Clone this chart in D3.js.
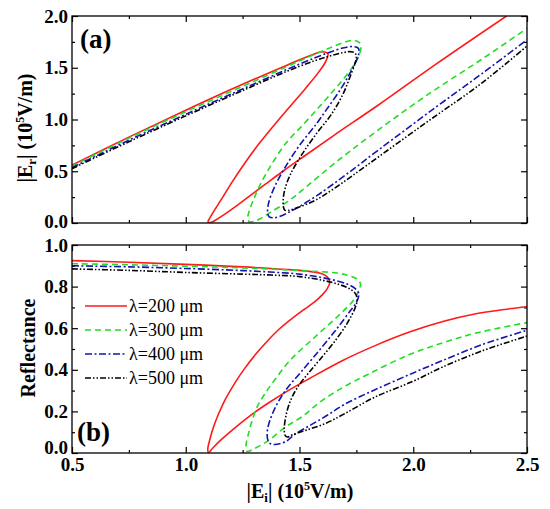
<!DOCTYPE html>
<html>
<head>
<meta charset="utf-8">
<script src="https://cdn.jsdelivr.net/npm/d3@7"></script>
<style>
  html, body { margin: 0; padding: 0; background: #fff; }
  svg text { font-family: "Liberation Serif", "Times New Roman", serif; }
</style>
</head>
<body>
<svg id="chart" width="550" height="509"></svg>
<script>
// ---------- DATA ----------
const xTicks = [0.5, 1.0, 1.5, 2.0, 2.5];
const xMinor = [0.75, 1.25, 1.75, 2.25];
const yTicksTop = [0.0, 0.5, 1.0, 1.5, 2.0];
const yMinorTop = [0.25, 0.75, 1.25, 1.75];
const yTicksBot = [0.0, 0.2, 0.4, 0.6, 0.8, 1.0];
const yMinorBot = [0.1, 0.3, 0.5, 0.7, 0.9];
const seriesLabels = ["λ=200 μm", "λ=300 μm", "λ=400 μm", "λ=500 μm"];

// Panel (a): |Er| vs |Ei|, points in path order [Ei, Er]
const topRed = [[0.50,0.56],[0.75,0.83],[1.00,1.09],[1.25,1.34],[1.45,1.53],[1.55,1.62],[1.60,1.655],[1.625,1.635],[1.615,1.56],[1.585,1.46],[1.53,1.31],[1.46,1.13],[1.39,0.95],[1.32,0.76],[1.26,0.58],[1.205,0.40],[1.16,0.24],[1.125,0.12],[1.105,0.045],[1.098,0.012],[1.104,0.002],[1.118,0.012],[1.14,0.04],[1.175,0.09],[1.22,0.16],[1.28,0.26],[1.35,0.375],[1.43,0.505],[1.52,0.645],[1.65,0.845],[1.85,1.145],[2.10,1.535],[2.41,2.0]];
const topGreen = [[0.50,0.55],[0.75,0.82],[1.00,1.075],[1.25,1.32],[1.50,1.565],[1.62,1.68],[1.69,1.74],[1.735,1.765],[1.762,1.745],[1.77,1.70],[1.762,1.62],[1.74,1.53],[1.70,1.41],[1.65,1.28],[1.59,1.13],[1.52,0.96],[1.44,0.77],[1.37,0.54],[1.325,0.36],[1.295,0.21],[1.277,0.10],[1.272,0.04],[1.28,0.012],[1.30,0.015],[1.33,0.045],[1.37,0.10],[1.45,0.21],[1.53,0.35],[1.65,0.57],[1.81,0.84],[2.05,1.22],[2.30,1.58],[2.50,1.88]];
const topBlue = [[0.50,0.535],[0.75,0.80],[1.00,1.05],[1.25,1.295],[1.50,1.535],[1.62,1.64],[1.69,1.69],[1.735,1.705],[1.758,1.69],[1.762,1.65],[1.752,1.58],[1.72,1.44],[1.68,1.29],[1.62,1.10],[1.575,0.96],[1.50,0.75],[1.44,0.55],[1.395,0.37],[1.365,0.20],[1.36,0.10],[1.367,0.06],[1.385,0.05],[1.41,0.06],[1.45,0.10],[1.50,0.16],[1.58,0.27],[1.70,0.46],[1.85,0.71],[2.10,1.12],[2.30,1.44],[2.50,1.77]];
const topBlack = [[0.50,0.525],[0.75,0.785],[1.00,1.035],[1.25,1.28],[1.50,1.515],[1.62,1.605],[1.69,1.645],[1.725,1.655],[1.745,1.64],[1.75,1.60],[1.742,1.53],[1.72,1.40],[1.69,1.24],[1.64,1.05],[1.57,0.85],[1.51,0.66],[1.46,0.47],[1.435,0.32],[1.428,0.21],[1.43,0.15],[1.435,0.125],[1.45,0.122],[1.50,0.155],[1.57,0.22],[1.65,0.33],[1.81,0.58],[2.05,0.96],[2.30,1.35],[2.50,1.71]];

// Panel (b): Reflectance vs |Ei|, points in path order [Ei, R]
const botRed = [[0.50,0.925],[0.75,0.917],[1.00,0.907],[1.25,0.895],[1.45,0.882],[1.55,0.872],[1.595,0.863],[1.622,0.847],[1.633,0.822],[1.622,0.79],[1.60,0.76],[1.565,0.725],[1.52,0.69],[1.465,0.645],[1.41,0.595],[1.36,0.54],[1.31,0.478],[1.26,0.408],[1.215,0.335],[1.175,0.26],[1.145,0.19],[1.122,0.125],[1.106,0.065],[1.097,0.02],[1.10,0.002],[1.12,0.025],[1.15,0.058],[1.19,0.097],[1.24,0.143],[1.30,0.193],[1.37,0.245],[1.45,0.30],[1.54,0.356],[1.69,0.445],[1.83,0.515],[1.98,0.58],[2.13,0.632],[2.27,0.668],[2.40,0.69],[2.50,0.703]];
const botGreen = [[0.50,0.91],[0.75,0.905],[1.00,0.898],[1.25,0.89],[1.50,0.877],[1.666,0.865],[1.72,0.852],[1.755,0.835],[1.768,0.812],[1.76,0.78],[1.74,0.738],[1.666,0.655],[1.563,0.553],[1.46,0.447],[1.39,0.35],[1.345,0.28],[1.314,0.222],[1.29,0.15],[1.275,0.09],[1.265,0.035],[1.27,0.008],[1.30,0.02],[1.365,0.061],[1.438,0.125],[1.512,0.175],[1.59,0.245],[1.69,0.315],[1.81,0.383],[1.98,0.472],[2.13,0.53],[2.27,0.575],[2.50,0.627]];
const botBlue = [[0.50,0.90],[0.75,0.895],[1.00,0.887],[1.25,0.877],[1.37,0.87],[1.50,0.86],[1.636,0.835],[1.71,0.812],[1.745,0.79],[1.761,0.765],[1.748,0.72],[1.724,0.685],[1.666,0.60],[1.592,0.50],[1.504,0.386],[1.438,0.30],[1.395,0.222],[1.368,0.15],[1.358,0.10],[1.362,0.058],[1.375,0.043],[1.40,0.042],[1.44,0.055],[1.48,0.09],[1.55,0.135],[1.62,0.18],[1.70,0.235],[1.834,0.305],[2.00,0.385],[2.13,0.445],[2.30,0.52],[2.50,0.59]];
const botBlack = [[0.50,0.885],[0.75,0.878],[1.00,0.868],[1.25,0.86],[1.39,0.855],[1.50,0.848],[1.636,0.822],[1.71,0.795],[1.742,0.772],[1.754,0.745],[1.745,0.70],[1.71,0.624],[1.65,0.53],[1.59,0.45],[1.54,0.385],[1.50,0.33],[1.47,0.275],[1.45,0.22],[1.438,0.165],[1.433,0.115],[1.437,0.085],[1.447,0.077],[1.47,0.088],[1.53,0.11],[1.614,0.142],[1.70,0.19],[1.834,0.27],[2.00,0.345],[2.13,0.414],[2.30,0.49],[2.50,0.562]];

// ---------- STYLE ----------
const styles = [
  { color: "#ff1a1a", dash: null },
  { color: "#22dd22", dash: "6,4" },
  { color: "#1414b0", dash: "7,2.5,2,2.5" },
  { color: "#000000", dash: "6,2,1.5,2,1.5,2" }
];
const topSeries = [topRed, topGreen, topBlue, topBlack];
const botSeries = [botRed, botGreen, botBlue, botBlack];

const svg = d3.select("#chart");
const L = 72, R = 527;
const topP = { t: 16, b: 223 };
const botP = { t: 245, b: 453 };

const x = d3.scaleLinear().domain([0.5, 2.5]).range([L, R]);
const yTop = d3.scaleLinear().domain([0, 2.0]).range([topP.b, topP.t]);
const yBot = d3.scaleLinear().domain([0, 1.0]).range([botP.b, botP.t]);

const defs = svg.append("defs");
defs.append("clipPath").attr("id", "clipTop").append("rect")
  .attr("x", L).attr("y", topP.t).attr("width", R - L).attr("height", topP.b - topP.t);
defs.append("clipPath").attr("id", "clipBot").append("rect")
  .attr("x", L).attr("y", botP.t).attr("width", R - L).attr("height", botP.b - botP.t);

function drawPanel(y, p, ticks, minor, series, clipId, showXLabels, zeroShift) {
  const g = svg.append("g");
  const fmt = d3.format(".1f");
  const styleAxis = sel => {
    sel.select(".domain").remove();
    sel.selectAll("line").attr("stroke", "#000").attr("stroke-width", 1.2);
    sel.selectAll("text").attr("font-size", 19).attr("font-weight", "bold")
      .attr("fill", "#000").attr("font-family", "Liberation Serif, Times New Roman, serif");
  };
  const left = g.append("g").attr("transform", `translate(${L},0)`)
    .call(d3.axisLeft(y).tickValues(ticks).tickSize(-6).tickPadding(4).tickFormat(fmt)).call(styleAxis);
  left.selectAll(".tick").filter(d => d === 0).select("text")
    .attr("transform", `translate(0,${-zeroShift})`);
  g.append("g").attr("transform", `translate(${L},0)`)
    .call(d3.axisLeft(y).tickValues(minor).tickSize(-3).tickFormat("")).call(styleAxis);
  g.append("g").attr("transform", `translate(${R},0)`)
    .call(d3.axisRight(y).tickValues(ticks).tickSize(-6).tickFormat("")).call(styleAxis);
  g.append("g").attr("transform", `translate(${R},0)`)
    .call(d3.axisRight(y).tickValues(minor).tickSize(-3).tickFormat("")).call(styleAxis);
  g.append("g").attr("transform", `translate(0,${p.b})`)
    .call(d3.axisBottom(x).tickValues(xTicks).tickSize(-6).tickPadding(5)
      .tickFormat(showXLabels ? fmt : "")).call(styleAxis);
  g.append("g").attr("transform", `translate(0,${p.b})`)
    .call(d3.axisBottom(x).tickValues(xMinor).tickSize(-3).tickFormat("")).call(styleAxis);
  g.append("g").attr("transform", `translate(0,${p.t})`)
    .call(d3.axisTop(x).tickValues(xTicks).tickSize(-6).tickFormat("")).call(styleAxis);
  g.append("g").attr("transform", `translate(0,${p.t})`)
    .call(d3.axisTop(x).tickValues(xMinor).tickSize(-3).tickFormat("")).call(styleAxis);

  const line = d3.line().x(d => x(d[0])).y(d => y(d[1])).curve(d3.curveCatmullRom.alpha(0.5));
  const cg = g.append("g").attr("clip-path", `url(#${clipId})`);
  series.forEach((s, i) => {
    cg.append("path").datum(s).attr("d", line)
      .attr("fill", "none").attr("stroke", styles[i].color).attr("stroke-width", 1.6)
      .attr("stroke-dasharray", styles[i].dash);
  });
  g.append("rect").attr("x", L).attr("y", p.t).attr("width", R - L).attr("height", p.b - p.t)
    .attr("fill", "none").attr("stroke", "#000").attr("stroke-width", 1.3);
}

drawPanel(yTop, topP, yTicksTop, yMinorTop, topSeries, "clipTop", false, 2);
drawPanel(yBot, botP, yTicksBot, yMinorBot, botSeries, "clipBot", true, 6);

// Panel labels
svg.append("text").attr("x", 80).attr("y", 48).attr("font-size", 27).attr("font-weight", "bold").text("(a)");
svg.append("text").attr("x", 77).attr("y", 441).attr("font-size", 27).attr("font-weight", "bold").text("(b)");

// Y title top
const yt = svg.append("text").attr("transform", "translate(32,128) rotate(-90)")
  .attr("text-anchor", "middle").attr("font-size", 20).attr("font-weight", "bold");
yt.append("tspan").text("|E");
yt.append("tspan").attr("font-size", 13).attr("dy", 4).text("r");
yt.append("tspan").attr("dy", -4).text("| (10");
yt.append("tspan").attr("font-size", 12).attr("dy", -8).text("5");
yt.append("tspan").attr("dy", 8).text("V/m)");

// Y title bottom
svg.append("text").attr("transform", "translate(35,348) rotate(-90)")
  .attr("text-anchor", "middle").attr("font-size", 20).attr("font-weight", "bold").text("Reflectance");

// X title
const xt = svg.append("text").attr("x", 300).attr("y", 498)
  .attr("text-anchor", "middle").attr("font-size", 20).attr("font-weight", "bold");
xt.append("tspan").text("|E");
xt.append("tspan").attr("font-size", 13).attr("dy", 4).text("i");
xt.append("tspan").attr("dy", -4).text("| (10");
xt.append("tspan").attr("font-size", 12).attr("dy", -8).text("5");
xt.append("tspan").attr("dy", 8).text("V/m)");

// Legend
const legY = d3.scaleLinear().domain([0, 3]).range([306, 378]);
seriesLabels.forEach((lab, i) => {
  svg.append("line").attr("x1", 85).attr("x2", 127).attr("y1", legY(i)).attr("y2", legY(i))
    .attr("stroke", styles[i].color).attr("stroke-width", 1.6).attr("stroke-dasharray", styles[i].dash);
  svg.append("text").attr("x", 129).attr("y", legY(i) + 6).attr("font-size", 18).text(lab);
});
</script>
</body>
</html>
